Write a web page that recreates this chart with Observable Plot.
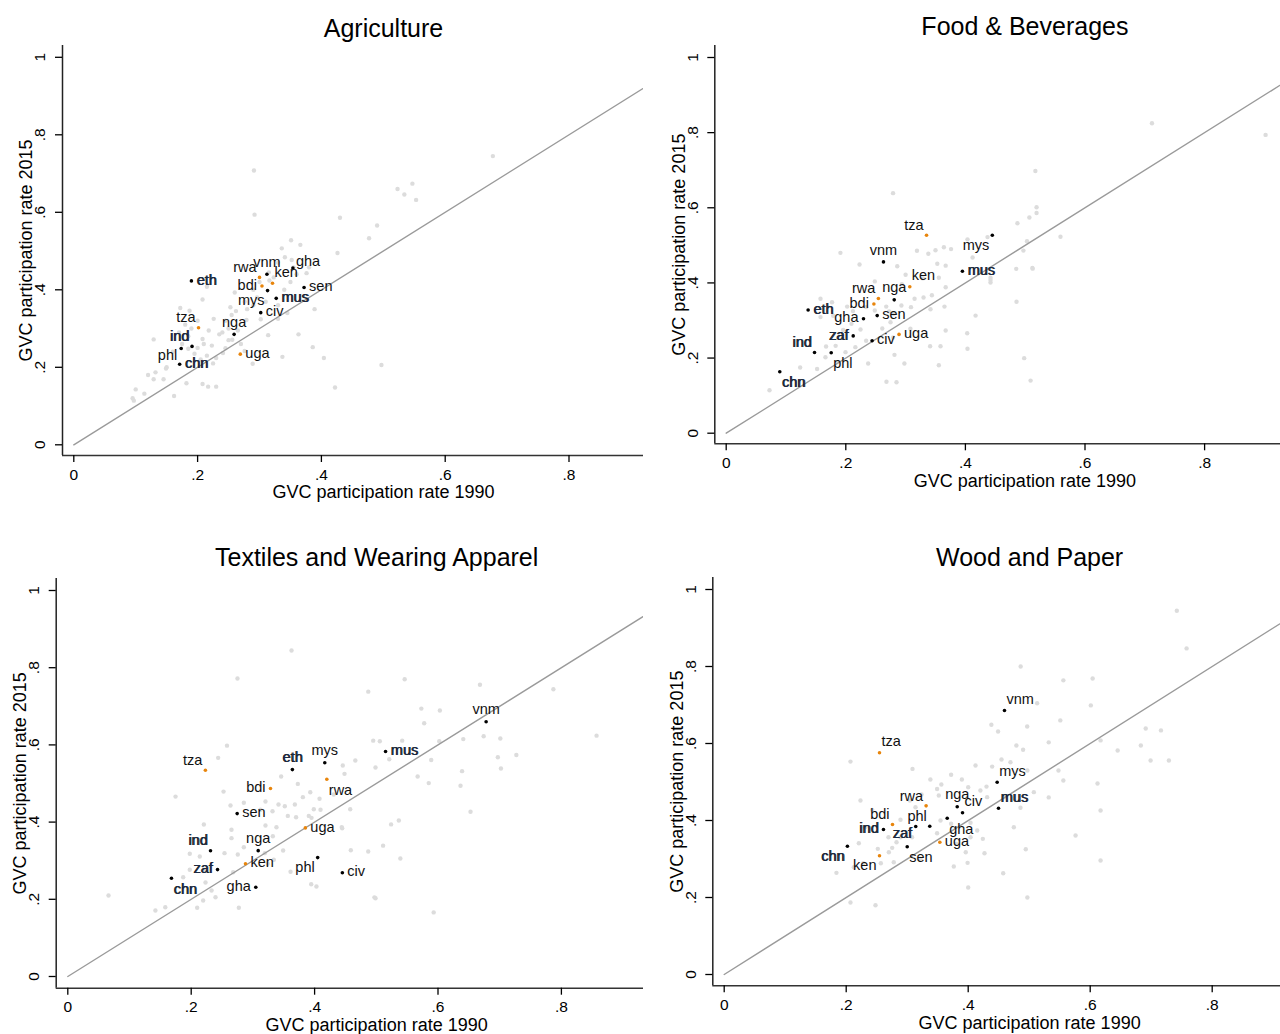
<!DOCTYPE html>
<html><head><meta charset="utf-8">
<script src="https://cdn.jsdelivr.net/npm/d3@7"></script>
<script src="https://cdn.jsdelivr.net/npm/@observablehq/plot@0.6"></script>
<style>
body{margin:0;background:#fff;}
#wrap{position:relative;width:1280px;height:1034px;overflow:hidden;background:#fff}
.panel{position:absolute;overflow:hidden}
.panel svg{max-width:none !important;}
</style></head><body><div id="wrap"></div>
<script>
// ---------- DATA ----------
const xTitle = "GVC participation rate 1990";
const yTitle = "GVC participation rate 2015";
const xTicks = [0, 0.2, 0.4, 0.6, 0.8];
const yTicks = [0, 0.2, 0.4, 0.6, 0.8, 1];
const diagonal = [0, 1];
const eacCountries = ["bdi", "ken", "rwa", "tza", "uga"];
const panelTitles = ["Agriculture", "Food & Beverages", "Textiles and Wearing Apparel", "Wood and Paper"];

// Agriculture
const agriNames = ["eth","rwa","vnm","ken","bdi","mys","gha","sen","mus","civ","tza","nga","ind","phl","chn","uga"];
const agriX = [0.190,0.300,0.312,0.321,0.304,0.313,0.354,0.372,0.327,0.302,0.2015,0.259,0.191,0.1735,0.171,0.269];
const agriY = [0.423,0.432,0.440,0.417,0.410,0.398,0.456,0.406,0.378,0.341,0.302,0.285,0.254,0.2485,0.208,0.234];
const agriOtherX = [0.677,0.291,0.292,0.523,0.547,0.534,0.553,0.430,0.490,0.477,0.426,0.351,0.366,0.336,0.352,0.376,0.380,0.389,0.363,0.386,0.404,0.337,0.422,0.497,0.172,0.187,0.208,0.215,0.129,0.132,0.129,0.114,0.100,0.095,0.097,0.149,0.145,0.162,0.182,0.208,0.217,0.230,0.185,0.260,0.253,0.279,0.276,0.226,0.218,0.223,0.208,0.241,0.245,0.230,0.302,0.314,0.330,0.310,0.355,0.289,0.276,0.256,0.265,0.316,0.323,0.315,0.341,0.240,0.235,0.250,0.245,0.255,0.262,0.280,0.290,0.296,0.270,0.250,0.210,0.200,0.195,0.215,0.225,0.205,0.175,0.160,0.185,0.190,0.200,0.180,0.170,0.150,0.120,0.345,0.330,0.340,0.350,0.360,0.330,0.290,0.300];
const agriOtherY = [0.745,0.708,0.594,0.660,0.674,0.646,0.632,0.586,0.566,0.533,0.495,0.528,0.516,0.507,0.477,0.443,0.458,0.350,0.285,0.252,0.224,0.227,0.148,0.206,0.353,0.346,0.375,0.408,0.272,0.187,0.169,0.132,0.143,0.120,0.114,0.197,0.169,0.126,0.159,0.157,0.150,0.150,0.248,0.393,0.355,0.322,0.369,0.325,0.295,0.256,0.273,0.237,0.249,0.224,0.324,0.283,0.325,0.369,0.458,0.209,0.242,0.271,0.295,0.424,0.432,0.445,0.484,0.290,0.285,0.300,0.320,0.335,0.345,0.350,0.360,0.380,0.260,0.270,0.260,0.250,0.235,0.230,0.210,0.220,0.260,0.240,0.280,0.300,0.320,0.310,0.290,0.200,0.180,0.340,0.360,0.400,0.420,0.440,0.470,0.400,0.420];

// Food & Beverages
const foodNames = ["tza","mys","vnm","ken","nga","rwa","bdi","eth","gha","sen","zaf","civ","uga","ind","phl","chn","mus"];
const foodX = [0.335,0.445,0.263,0.307,0.281,0.2545,0.247,0.137,0.2296,0.2525,0.2124,0.244,0.289,0.1477,0.1756,0.0896,0.395];
const foodY = [0.527,0.527,0.456,0.390,0.355,0.3585,0.344,0.328,0.3045,0.313,0.259,0.246,0.263,0.2148,0.214,0.1634,0.431];
const foodOtherX = [0.712,0.902,0.517,0.279,0.519,0.507,0.519,0.487,0.559,0.503,0.497,0.512,0.485,0.4035,0.412,0.319,0.338,0.350,0.364,0.376,0.353,0.367,0.286,0.437,0.442,0.191,0.223,0.300,0.2485,0.2937,0.329,0.3556,0.367,0.330,0.344,0.315,0.365,0.3416,0.309,0.293,0.2676,0.2725,0.280,0.2485,0.234,0.212,0.2023,0.177,0.1577,0.179,0.1577,0.2095,0.1956,0.2246,0.261,0.2748,0.308,0.279,0.234,0.216,0.183,0.167,0.1995,0.166,0.1237,0.152,0.1856,0.2374,0.2814,0.298,0.2848,0.0724,0.341,0.3584,0.367,0.403,0.4035,0.417,0.4855,0.509,0.4983,0.5125,0.442,0.442,0.3556,0.268];
const foodOtherY = [0.825,0.794,0.698,0.639,0.6015,0.574,0.586,0.559,0.523,0.511,0.486,0.440,0.4375,0.516,0.4677,0.4855,0.4775,0.487,0.495,0.490,0.451,0.446,0.4445,0.522,0.408,0.480,0.449,0.4216,0.404,0.3966,0.412,0.4137,0.3886,0.361,0.367,0.3577,0.337,0.330,0.3355,0.340,0.337,0.324,0.318,0.3266,0.3355,0.325,0.337,0.3487,0.358,0.3125,0.309,0.291,0.275,0.276,0.2787,0.2955,0.278,0.2547,0.246,0.229,0.2325,0.2307,0.2157,0.202,0.175,0.171,0.189,0.1855,0.2086,0.1855,0.1357,0.1145,0.2316,0.2316,0.2734,0.266,0.2247,0.313,0.350,0.140,0.1997,0.438,0.4137,0.401,0.181,0.137];

// Textiles and Wearing Apparel
const textNames = ["tza","eth","mys","mus","bdi","rwa","sen","uga","nga","ind","ken","zaf","phl","civ","chn","gha","vnm"];
const textX = [0.223,0.364,0.4165,0.515,0.3285,0.4198,0.2745,0.385,0.3086,0.2313,0.288,0.2427,0.405,0.445,0.168,0.3047,0.678];
const textY = [0.5345,0.536,0.5536,0.583,0.487,0.511,0.422,0.385,0.326,0.3256,0.292,0.277,0.308,0.2686,0.2547,0.2314,0.660];
const textOtherX = [0.546,0.487,0.668,0.787,0.573,0.603,0.3626,0.275,0.857,0.066,0.593,0.497,0.5776,0.641,0.495,0.5057,0.542,0.602,0.674,0.701,0.727,0.697,0.702,0.466,0.4987,0.521,0.589,0.639,0.567,0.585,0.6365,0.4457,0.4485,0.4577,0.4447,0.524,0.5365,0.511,0.6527,0.4587,0.4869,0.539,0.4987,0.258,0.2437,0.1746,0.2524,0.3458,0.3728,0.393,0.381,0.408,0.431,0.3415,0.3517,0.368,0.3204,0.3123,0.2853,0.2637,0.3318,0.3566,0.370,0.3906,0.3987,0.4096,0.3204,0.3382,0.395,0.444,0.2653,0.2653,0.2205,0.1977,0.254,0.2755,0.2853,0.3323,0.3193,0.349,0.3339,0.324,0.2139,0.187,0.2232,0.233,0.2394,0.158,0.2097,0.2194,0.2772,0.1977,0.222,0.268,0.361,0.3945,0.403,0.142];
const textOtherY = [0.770,0.738,0.756,0.744,0.694,0.689,0.8446,0.772,0.624,0.210,0.166,0.205,0.656,0.615,0.611,0.6096,0.611,0.6096,0.6225,0.6166,0.574,0.568,0.539,0.5596,0.5415,0.563,0.561,0.532,0.518,0.501,0.494,0.5466,0.525,0.4334,0.384,0.394,0.404,0.339,0.4267,0.327,0.3238,0.3057,0.2029,0.598,0.5665,0.466,0.479,0.518,0.499,0.4775,0.4646,0.4603,0.4715,0.4456,0.441,0.4456,0.4534,0.432,0.450,0.443,0.4283,0.416,0.4127,0.416,0.4334,0.432,0.391,0.3868,0.411,0.387,0.380,0.3584,0.3938,0.318,0.3195,0.316,0.335,0.3635,0.3195,0.3264,0.3023,0.292,0.311,0.257,0.2435,0.2228,0.2055,0.1795,0.178,0.197,0.178,0.2764,0.2764,0.270,0.2712,0.239,0.233,0.171];

// Wood and Paper
const woodNames = ["vnm","tza","mys","mus","rwa","nga","civ","bdi","phl","ind","zaf","gha","uga","sen","chn","ken"];
const woodX = [0.4595,0.2546,0.4475,0.4497,0.331,0.382,0.3907,0.2759,0.337,0.2611,0.314,0.3656,0.3535,0.300,0.202,0.2546];
const woodY = [0.6857,0.5758,0.4995,0.432,0.438,0.4356,0.420,0.3896,0.3852,0.3766,0.3844,0.406,0.3436,0.3317,0.3333,0.3083];
const woodOtherX = [0.742,0.758,0.486,0.556,0.604,0.576,0.617,0.532,0.617,0.497,0.400,0.399,0.513,0.438,0.449,0.4967,0.532,0.490,0.479,0.4546,0.4693,0.497,0.207,0.3087,0.412,0.4393,0.338,0.372,0.3896,0.356,0.400,0.420,0.430,0.431,0.460,0.5076,0.4857,0.4748,0.3518,0.349,0.3235,0.3043,0.3136,0.3546,0.349,0.372,0.4038,0.4148,0.4038,0.381,0.424,0.396,0.4267,0.308,0.289,0.2825,0.2693,0.2754,0.2234,0.2426,0.289,0.231,0.2207,0.2518,0.2699,0.184,0.2125,0.228,0.2568,0.278,0.3218,0.3764,0.4574,0.4944,0.207,0.248,0.551,0.601,0.617,0.645,0.683,0.699,0.716,0.548,0.556,0.612,0.691,0.729];
const woodOtherY = [0.945,0.847,0.800,0.764,0.769,0.361,0.426,0.460,0.296,0.200,0.226,0.290,0.7047,0.6486,0.631,0.644,0.603,0.5836,0.595,0.5584,0.5514,0.530,0.553,0.534,0.543,0.540,0.5065,0.519,0.5065,0.4935,0.4865,0.478,0.488,0.4606,0.4606,0.4736,0.433,0.3826,0.465,0.482,0.4675,0.452,0.4346,0.400,0.367,0.3914,0.394,0.374,0.3566,0.3394,0.3524,0.3177,0.315,0.3566,0.3566,0.3437,0.3566,0.329,0.452,0.4277,0.4018,0.3826,0.341,0.3264,0.3177,0.264,0.2787,0.289,0.289,0.2917,0.3005,0.2805,0.263,0.3255,0.187,0.180,0.660,0.699,0.608,0.582,0.595,0.556,0.634,0.530,0.504,0.496,0.639,0.556];

// ---------- LAYOUT / STYLE ----------
const FONT = "'Liberation Sans', Arial, Helvetica, sans-serif";
const ORANGE = "#e8850c";
const GREY = "#dcdcdc";
const boldNames = ["eth","mus","ind","zaf","chn"];

// clock-position offsets (Stata style marker label placement)
const clock = {
  3:  {dx: 5,  dy: -1, anchor: "start"},
  9:  {dx: -5, dy: -1, anchor: "end"},
  12: {dx: 0,  dy: -12, anchor: "middle"},
  6:  {dx: 0,  dy: 12, anchor: "middle"},
  11: {dx: -3, dy: -10, anchor: "end"},
  1:  {dx: 2,  dy: -11, anchor: "start"},
  2:  {dx: 3,  dy: -7, anchor: "start"},
  4:  {dx: 3,  dy: 8, anchor: "start"},
  5:  {dx: 2,  dy: 11, anchor: "start"},
  7:  {dx: -3, dy: 10, anchor: "end"},
  8:  {dx: -4, dy: 7, anchor: "end"}
};

const panels = [
  {title: panelTitles[0], names: agriNames, xs: agriX, ys: agriY, gx: agriOtherX, gy: agriOtherY,
   left: 0, top: 0, cw: 643, ch: 520, svgW: 720, svgH: 520,
   fl: 62, fr: 704, ft: 45, fb: 455, x0: 73.3, xu: 619, y0: 444.3, yu: 387.5, titleDy: -17,
   pos: {eth:3,rwa:11,vnm:12,ken:1,bdi:9,mys:7,gha:2,sen:3,mus:3,civ:3,tza:11,nga:12,ind:11,phl:8,chn:3,uga:3}},
  {title: panelTitles[1], names: foodNames, xs: foodX, ys: foodY, gx: foodOtherX, gy: foodOtherY,
   left: 643, top: 0, cw: 637, ch: 520, svgW: 720, svgH: 520,
   fl: 71.3, fr: 691.5, ft: 45, fb: 443.3, x0: 82.7, xu: 598, y0: 432.7, yu: 375.7, titleDy: -19,
   pos: {tza:11,mys:7,vnm:12,ken:1,nga:12,rwa:11,bdi:9,eth:3,gha:9,sen:3,zaf:9,civ:3,uga:3,ind:11,phl:5,chn:5,mus:3}},
  {title: panelTitles[2], names: textNames, xs: textX, ys: textY, gx: textOtherX, gy: textOtherY,
   left: 0, top: 520, cw: 643, ch: 514, svgW: 720, svgH: 514,
   fl: 55.7, fr: 696.6, ft: 58, fb: 467.7, x0: 67.3, xu: 617, y0: 456, yu: 386, titleDy: -21,
   pos: {tza:11,eth:12,mys:12,mus:3,bdi:9,rwa:5,sen:3,uga:3,nga:12,ind:11,ken:3,zaf:9,phl:7,civ:3,chn:5,gha:9,vnm:12}},
  {title: panelTitles[3], names: woodNames, xs: woodX, ys: woodY, gx: woodOtherX, gy: woodOtherY,
   left: 643, top: 520, cw: 637, ch: 514, svgW: 720, svgH: 514,
   fl: 69.3, fr: 702.9, ft: 57, fb: 465.3, x0: 80.7, xu: 610, y0: 454, yu: 385, titleDy: -20,
   pos: {vnm:1,tza:1,mys:1,mus:1,rwa:11,nga:12,civ:1,bdi:11,phl:11,ind:9,zaf:8,gha:5,uga:3,sen:5,chn:7,ken:7}}
];

const fmt = d => d === 0 ? "0" : d === 1 ? "1" : d3.format(".1f")(d).replace(/^0/, "");

function makePanel(p) {
  const hi = p.names.map((n, i) => ({name: n, x: p.xs[i], y: p.ys[i], eac: eacCountries.includes(n)}));
  const grey = p.gx.map((x, i) => ({x, y: p.gy[i]}));
  const xDom = [(p.fl - p.x0) / p.xu, (p.fr - p.x0) / p.xu];
  const yDom = [(p.y0 - p.fb) / p.yu, (p.y0 - p.ft) / p.yu];
  const labelMarks = [];
  for (const c of Object.keys(clock)) {
    const subset = hi.filter(d => String(p.pos[d.name]) === c);
    if (!subset.length) continue;
    const o = clock[c];
    labelMarks.push(Plot.text(subset, {x: "x", y: "y", text: "name", dx: o.dx, dy: o.dy, textAnchor: o.anchor,
      fontSize: 14.5, fill: "#111"}));
    const bold = subset.filter(d => boldNames.includes(d.name));
    if (bold.length) labelMarks.push(Plot.text(bold, {x: "x", y: "y", text: "name", dx: o.dx + 0.8, dy: o.dy, textAnchor: o.anchor,
      fontSize: 14.5, fill: "#1b2b44"}));
  }
  return Plot.plot({
    width: p.svgW, height: p.svgH,
    marginLeft: p.fl, marginRight: p.svgW - p.fr, marginTop: p.ft, marginBottom: p.svgH - p.fb,
    x: {domain: xDom},
    y: {domain: yDom},
    style: {fontFamily: FONT, background: "transparent", color: "#000", maxWidth: "none", overflow: "visible"},
    marks: [
      Plot.dot(grey, {x: "x", y: "y", r: 2.2, fill: GREY}),
      Plot.line(diagonal, {x: d => d, y: d => d, stroke: "#9a9a9a", strokeWidth: 1.4}),
      Plot.dot(hi, {x: "x", y: "y", r: 1.8, fill: d => d.eac ? ORANGE : "#000"}),
      ...labelMarks,
      Plot.ruleX([xDom[0]], {stroke: "#222", strokeWidth: 1.5}),
      Plot.ruleY([yDom[0]], {stroke: "#333", strokeWidth: 1.6}),
      Plot.axisX(xTicks, {label: null, tickSize: 7, tickPadding: 6, tickFormat: fmt, fontSize: 15.5, strokeWidth: 1.3}),
      Plot.axisY(yTicks, {label: null, tickSize: 7, tickPadding: 15, tickFormat: fmt, fontSize: 15.5, tickRotate: -90,
        textAnchor: "middle", lineAnchor: "middle", strokeWidth: 1.3}),
      Plot.text([xTitle], {frameAnchor: "bottom", dy: 37, fontSize: 18, fill: "#000", textAnchor: "middle", lineAnchor: "middle"}),
      Plot.text([yTitle], {frameAnchor: "left", dx: -36, rotate: -90, fontSize: 18, fill: "#000", textAnchor: "middle", lineAnchor: "middle"}),
      Plot.text([p.title], {frameAnchor: "top", dy: p.titleDy, fontSize: 25, fill: "#000", textAnchor: "middle", lineAnchor: "middle"})
    ]
  });
}

const wrap = document.getElementById("wrap");
for (const p of panels) {
  const div = document.createElement("div");
  div.className = "panel";
  div.style.left = p.left + "px";
  div.style.top = p.top + "px";
  div.style.width = p.cw + "px";
  div.style.height = p.ch + "px";
  div.appendChild(makePanel(p));
  wrap.appendChild(div);
}
</script></body></html>
